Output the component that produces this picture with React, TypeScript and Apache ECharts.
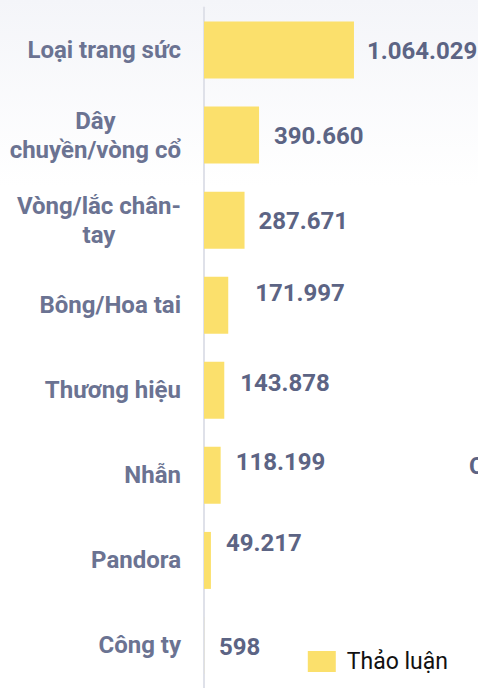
import React, { useEffect, useRef } from "react";
import * as echarts from "echarts";

const categories = [
  "Loại trang sức",
  "Dây chuyền/vòng cổ",
  "Vòng/lắc chân-tay",
  "Bông/Hoa tai",
  "Thương hiệu",
  "Nhẫn",
  "Pandora",
  "Công ty",
];
const discussionValues = [1064029, 390660, 287671, 171997, 143878, 118199, 49217, 598];
const seriesName = "Thảo luận";
const labelOffsets: [number, number][] = [
  [-2, 1],
  [0, 1],
  [-1, 1],
  [12, -12],
  [1, -7],
  [0, -13],
  [0, -17],
  [0, 2],
];

const fmt = (v: number) => String(v).replace(/\B(?=(\d{3})+(?!\d))/g, ".");

const CAT_FONT = "bold 24px Roboto";
const WRAP_WIDTH = 176;

function wrapLabel(text: string): string[] {
  const canvas = document.createElement("canvas");
  const ctx = canvas.getContext("2d");
  if (!ctx) return [text];
  ctx.font = CAT_FONT;
  const parts = text.match(/[^\s-]+-?\s*|\s+/g) || [text];
  const lines: string[] = [];
  let cur = "";
  for (const p of parts) {
    const cand = cur + p;
    if (cur && ctx.measureText(cand.trimEnd()).width > WRAP_WIDTH) {
      lines.push(cur.trimEnd());
      cur = p;
    } else {
      cur = cand;
    }
  }
  if (cur) lines.push(cur.trimEnd());
  return lines;
}

export default function App() {
  const ref = useRef<HTMLDivElement>(null);
  useEffect(() => {
    document.body.style.margin = "0";
    if (!ref.current) return;
    const chart = echarts.init(ref.current, null, { renderer: "svg" });
    const catStyle = {
      fontSize: 24,
      fontWeight: "bold",
      color: "#6b7392",
      fontFamily: "Roboto",
      lineHeight: 29,
      align: "center",
    };
    chart.setOption({
      animation: false,
      backgroundColor: new echarts.graphic.LinearGradient(0, 0, 0, 1, [
        { offset: 0, color: "#f4f5f9" },
        { offset: 0.27, color: "#ffffff" },
        { offset: 1, color: "#ffffff" },
      ]),
      textStyle: { fontFamily: "Roboto" },
      grid: { left: 204, right: 0, top: 7.5, bottom: -6, containLabel: false },
      legend: {
        data: [seriesName],
        right: 25,
        bottom: 10,
        itemWidth: 28,
        itemHeight: 21,
        itemGap: 10,
        textStyle: {
          fontSize: 23,
          color: "#111111",
          fontFamily: "Roboto",
          padding: [0, 0, 0, 6],
        },
        icon: "rect",
      },
      xAxis: {
        type: "value",
        min: 0,
        max: 1944000,
        show: false,
      },
      yAxis: {
        type: "category",
        data: categories,
        inverse: true,
        axisTick: { show: false },
        axisLine: { show: true, lineStyle: { color: "#dfe1e9", width: 2 } },
        splitLine: { show: false },
        axisLabel: {
          margin: 23,
          fontSize: 24,
          fontWeight: "bold",
          color: "#6b7392",
          fontFamily: "Roboto",
          lineHeight: 29,
          align: "right",
          formatter: (value: string) =>
            wrapLabel(value)
              .map((l) => `{c|${l}}`)
              .join("\n"),
          rich: { c: catStyle },
        },
      },
      series: [
        {
          name: seriesName,
          type: "bar",
          barCategoryGap: "33%",
          itemStyle: { color: "#fbe06c" },
          data: discussionValues.map((v, i) => ({
            value: v,
            label: { offset: labelOffsets[i] },
          })),
          label: {
            show: true,
            position: "right",
            distance: 15,
            fontSize: 24,
            fontWeight: "bold",
            color: "#5c6484",
            fontFamily: "Roboto",
            formatter: (p: any) => fmt(p.value),
          },
        },
      ],
      graphic: [
        {
          type: "text",
          left: 469,
          top: 454,
          style: {
            text: "C",
            fontSize: 24,
            fontWeight: "bold",
            fill: "#5c6484",
            fontFamily: "Roboto",
          },
        },
      ],
    });
    return () => chart.dispose();
  }, []);
  return <div ref={ref} style={{ width: 478, height: 688 }} />;
}
